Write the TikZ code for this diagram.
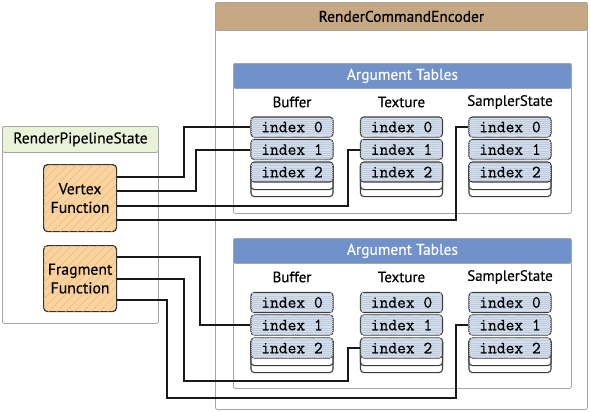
\documentclass[tikz,border=0pt]{standalone}
\usepackage{fontspec}
\setmainfont{PT Sans}[FakeBold=0.35]
\newfontfamily\idxfont{Latin Modern Mono}[FakeBold=0.6]
\usetikzlibrary{calc,patterns.meta}
\definecolor{brownhdr}{RGB}{199,168,132}
\definecolor{bluehdr}{RGB}{112,145,201}
\definecolor{greenhdr}{RGB}{233,243,216}
\definecolor{boxgray}{RGB}{165,165,165}
\definecolor{funcfill}{RGB}{250,211,158}
\definecolor{funchatch}{RGB}{236,190,132}
\definecolor{idxfill}{RGB}{211,223,236}
\definecolor{idxstripe}{RGB}{190,203,218}
\definecolor{idxline}{RGB}{60,60,60}
\tikzset{
  container/.style={draw=boxgray, line width=0.6pt, fill=white, rounded corners=1.5pt, inner sep=0pt},
  hdrbox/.style={draw=boxgray, line width=0.6pt, rounded corners=1.5pt, inner sep=0pt, anchor=north,
                 font=\fontsize{11.6}{13}\selectfont},
  funcbox/.style={draw=black!80, line width=0.9pt, rounded corners=3pt, fill=funcfill,
                  postaction={pattern={Lines[angle=45,distance=4.5pt,line width=0.5pt]}, pattern color=funchatch},
                  minimum width=54.75pt, align=center, inner sep=0pt,
                  font=\fontsize{11.8}{14}\selectfont},
  idxbox/.style={draw=idxline, line width=0.8pt, rounded corners=2.5pt, fill=idxfill,
                 postaction={pattern={Lines[angle=0,distance=1.6pt,line width=0.3pt]}, pattern color=idxstripe},
                 minimum width=61.5pt, minimum height=15pt, inner sep=0pt,
                 font=\fontsize{12.8}{13}\idxfont},
  stackbox/.style={draw=idxline, line width=0.8pt, rounded corners=2.5pt, fill=white,
                 minimum width=61.5pt, inner sep=0pt, anchor=north},
  collabel/.style={font=\fontsize{11.2}{13}\selectfont, inner sep=0pt},
  wire/.style={draw=black!90, line width=1.5pt, line join=miter},
}
\begin{document}
\begin{tikzpicture}[x=0.75pt,y=-0.75pt]
\useasboundingbox (0,0) rectangle (591,411);

% RenderCommandEncoder
\node[container, minimum width=279pt, minimum height=305.25pt, anchor=north west] (rce) at (215,2) {};
\node[hdrbox, fill=brownhdr, minimum width=279pt, minimum height=21pt] (rceh) at (rce.north) {RenderCommandEncoder};

% RenderPipelineState
\node[container, minimum width=117pt, minimum height=147.75pt, anchor=north west] (rps) at (2,126) {};
\node[hdrbox, fill=greenhdr, minimum width=117pt, minimum height=19.5pt] (rpsh) at (rps.north) {RenderPipelineState};

% Argument table panels
\foreach \nm/\ty in {top/63, bot/238} {
  \node[container, minimum width=253.5pt, minimum height=112.5pt, anchor=north west] (\nm) at (233,\ty) {};
  \node[hdrbox, fill=bluehdr, text=white, minimum width=253.5pt, minimum height=18.75pt] (\nm h) at (\nm.north) {Argument Tables};
}

% column labels
\node[collabel] (bufA) at (292,102) {Buffer};
\node[collabel] (texA) at (401.5,102) {Texture};
\node[collabel] (smpA) at (510,102) {SamplerState};
\node[collabel] (bufB) at (292,277) {Buffer};
\node[collabel] (texB) at (401.5,277) {Texture};
\node[collabel] (smpB) at (510,277) {SamplerState};

% index stacks
\foreach \col/\cx in {b/292, t/401.5, s/510} {
  % top table
  \node[stackbox, minimum height=25.5pt] (\col stA) at (\cx,162) {};
  \node[stackbox, minimum height=20.25pt] (\col stAb) at (\cx,162) {};
  \node[idxbox] (\col 0) at (\cx,127) {index 0};
  \node[idxbox] (\col 1) at (\cx,149.5) {index 1};
  \node[idxbox] (\col 2) at (\cx,172) {index 2};
  % bottom table
  \node[stackbox, minimum height=25.5pt] (\col stB) at (\cx,338) {};
  \node[stackbox, minimum height=20.25pt] (\col stBb) at (\cx,338) {};
  \node[idxbox] (\col B0) at (\cx,302.5) {index 0};
  \node[idxbox] (\col B1) at (\cx,325) {index 1};
  \node[idxbox] (\col B2) at (\cx,348) {index 2};
}

% function boxes
\node[funcbox, minimum height=50.25pt, anchor=north west] (vf) at (43,164) {Vertex\\Function};
\node[funcbox, minimum height=49.5pt, anchor=north west] (ff) at (43,245) {Fragment\\Function};

% wires from vertex function
\draw[wire] ($(vf.north east)+(0,13)$) -| (184,0 |- b0.west) -- (b0.west);
\draw[wire] ($(vf.north east)+(0,27)$) -| (196,0 |- b1.west) -- (b1.west);
\draw[wire] ($(vf.north east)+(0,42)$) -| (348,0 |- t1.west) -- (t1.west);
\draw[wire] ($(vf.north east)+(0,56)$) -| (456,0 |- s0.west) -- (s0.west);

% wires from fragment function
\draw[wire] ($(ff.north east)+(0,12)$) -| (200,0 |- bB1.west) -- (bB1.west);
\draw[wire] ($(ff.north east)+(0,34)$) -| (184,381) -| (348,0 |- tB2.west) -- (tB2.west);
\draw[wire] ($(ff.north east)+(0,55)$) -| (167,398) -| (456,0 |- sB1.west) -- (sB1.west);
\end{tikzpicture}
\end{document}
